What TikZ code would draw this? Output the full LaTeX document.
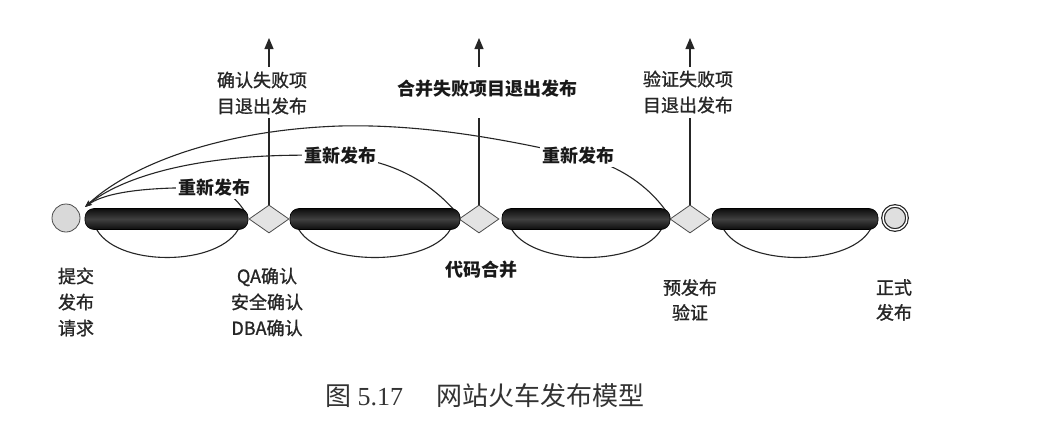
\documentclass[tikz,border=0pt]{standalone}
\usepackage{fontspec}
\setmainfont{Liberation Serif}
\newfontfamily\cjk{Noto Sans CJK SC}
\newfontfamily\cjkmid[FakeBold=1.2]{Noto Sans CJK SC}
\usetikzlibrary{shapes.geometric,arrows.meta}
\pgfdeclarelayer{background}
\pgfsetlayers{background,main}

\begin{document}
\begin{tikzpicture}[x=1pt,y=-1pt,
  ink/.style={draw=black!85, line width=1.1pt},
  lbl/.style={font=\cjkmid\fontsize{18}{26}\selectfont, text=black!85, align=center, inner sep=0pt},
  boldlbl/.style={font=\cjk\bfseries\fontsize{18}{26}\selectfont, text=black!90, align=center, inner sep=0pt},
  relabel/.style={boldlbl, fill=white, inner sep=2pt},
  gate/.style={diamond, draw=black!70, line width=0.8pt, fill=gray!22, inner sep=0pt,
    minimum width=40pt, minimum height=28pt},
  stagebar/.style={rectangle, rounded corners=9pt, minimum height=21pt, inner sep=0pt,
    draw=black, line width=0.6pt, top color=black!95, bottom color=black!95, middle color=black!75},
  back/.style={ink, -{Stealth[length=7pt,width=5pt]}},
  exit/.style={ink, -{Triangle[length=11pt,width=9pt]}},
  loop/.style={ink}
]
\useasboundingbox (0,0) rectangle (1055,434);
\begin{pgfonlayer}{background}
  \fill[white] (0,0) rectangle (1055,434);
\end{pgfonlayer}

% milestones
\node[circle, draw=black!70, line width=0.8pt, fill=gray!30, minimum size=28pt, inner sep=0pt] (start) at (66,218) {};
\node[gate] (g1) at (269,219) {};
\node[gate] (g2) at (479,219) {};
\node[gate] (g3) at (690,219) {};
\node[circle, draw=black!85, line width=1.2pt, double=white, double distance=1.4pt,
      fill=gray!25, minimum size=24pt, inner sep=0pt] (stop) at (895,218) {};

% stages between milestones
\node[stagebar, minimum width=163pt] (b1) at (166.5,219) {};
\node[stagebar, minimum width=170pt] (b2) at (375,219) {};
\node[stagebar, minimum width=168pt] (b3) at (586,219) {};
\node[stagebar, minimum width=166pt] (b4) at (795,219) {};

% re-release labels
\node[relabel] (r1) at (214,188) {重新发布};
\node[relabel] (r2) at (340,156) {重新发布};
\node[relabel] (r3) at (578,156) {重新发布};

% exit labels
\node[lbl] (t1) at (262,93) {确认失败项\\目退出发布};
\node[boldlbl] (t2) at (487,89) {合并失败项目退出发布};
\node[lbl] (t3) at (688,92) {验证失败项\\目退出发布};

% milestone labels
\node[lbl, align=left] (l0) at (76,302) {提交\\发布\\请求};
\node[lbl] (l1) at (267,302) {QA确认\\安全确认\\DBA确认};
\node[boldlbl] (l2) at (481,270) {代码合并};
\node[lbl, font=\cjkmid\fontsize{18}{25}\selectfont] (l3) at (690,300) {预发布\\验证};
\node[lbl, font=\cjkmid\fontsize{18}{25}\selectfont] (l4) at (894,300) {正式\\发布};

% caption
\node[font=\fontsize{26}{28}\selectfont, text=black!80, inner sep=0pt] (cap) at (485,396)
  {{\cjk 图} 5.17\hspace{1.3em}{\cjk 网站火车发布模型}};

% anchor points
\coordinate (hub) at (85,207);
\coordinate (u1) at (269,118);  \coordinate (a1) at (269,67);  \coordinate (e1) at (269,38);
\coordinate (u2) at (479,118);  \coordinate (a2) at (479,67);  \coordinate (e2) at (479,38);
\coordinate (u3) at (690,118);  \coordinate (a3) at (690,67);  \coordinate (e3) at (690,38);

\begin{pgfonlayer}{background}
  % exits upward
  \draw[ink] (g1.north) -- (u1);  \draw[exit] (a1) -- (e1);
  \draw[ink] (g2.north) -- (u2);  \draw[exit] (a2) -- (e2);
  \draw[ink] (g3.north) -- (u3);  \draw[exit] (a3) -- (e3);

  % re-release back to the start
  \draw[back] (247,215) .. controls (236,196) and (218,184) .. (r1.center)
              .. controls (130,186) and (100,196) .. (hub);
  \draw[back] (460,217) .. controls (432,182) and (392,160) .. (r2.center)
              .. controls (200,150) and (120,178) .. (hub);
  \draw[back] (670,217) .. controls (650,185) and (615,163) .. (r3.center)
              .. controls (500,138) and (420,124) .. (340,126)
              .. controls (220,130) and (130,165) .. (hub);

  % loops under each stage
  \draw[loop] (95,226)  .. controls (112,268) and (222,268) .. (240,226);
  \draw[loop] (297,226) .. controls (315,268) and (435,268) .. (452,226);
  \draw[loop] (510,226) .. controls (528,268) and (645,268) .. (663,226);
  \draw[loop] (722,226) .. controls (740,268) and (855,268) .. (872,226);
\end{pgfonlayer}
\end{tikzpicture}
\end{document}
